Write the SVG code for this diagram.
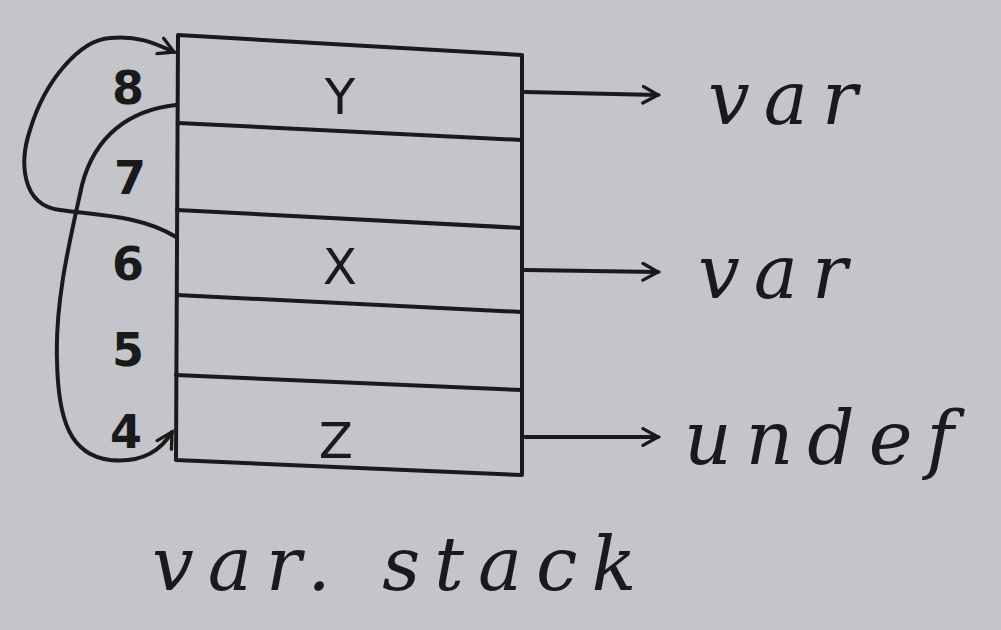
<svg xmlns="http://www.w3.org/2000/svg" width="1001" height="630" viewBox="0 0 1001 630">
<defs>
<style>
.ln{fill:none;stroke:#1a1a1a;stroke-width:4;stroke-linecap:round;stroke-linejoin:round}
.num{font-family:"DejaVu Sans",sans-serif;font-weight:bold;font-size:46px;fill:#1a1a1a;text-anchor:middle}
.cell{font-family:"DejaVu Sans",sans-serif;font-size:50px;fill:#1a1a1a;text-anchor:middle}
.hw{font-family:"DejaVu Serif",serif;font-style:italic;font-size:74px;fill:#1a1a1a;letter-spacing:14px}
</style>
<marker id="ah" viewBox="0 0 12 12" refX="10" refY="6" markerWidth="5" markerHeight="5" orient="auto" markerUnits="strokeWidth">
<path d="M1,1 L10,6 L1,11" fill="none" stroke="#1a1a1a" stroke-width="2" stroke-linecap="round"/>
</marker>
</defs>
<rect width="1001" height="630" fill="#c3c5cb"/>
<g id="stack">
<path class="ln" d="M178,35 L522,55 L522,475 L176,460 Z"/>
<path class="ln" d="M178,123 L522,140"/>
<path class="ln" d="M177,210 L522,228"/>
<path class="ln" d="M177,295 L522,312"/>
<path class="ln" d="M176,375 L522,390"/>
</g>
<g id="labels">
<text class="num" x="128" y="104">8</text>
<text class="num" x="130" y="194">7</text>
<text class="num" x="128" y="280">6</text>
<text class="num" x="128" y="366">5</text>
<text class="num" x="126" y="448">4</text>
<text class="cell" x="340" y="114">Y</text>
<text class="cell" x="340" y="284">X</text>
<text class="cell" x="336" y="458">Z</text>
</g>
<g id="connectors">
<path class="ln" marker-end="url(#ah)" d="M176,237 C140,215 95,215 60,210 C20,205 20,160 30,130 C45,80 80,40 110,38 C140,35 158,45 174,52"/>
<path class="ln" marker-end="url(#ah)" d="M176,105 C130,110 95,135 82,185 C70,240 55,300 57,360 C58,420 70,455 110,460 C140,463 160,452 172,432"/>
<path class="ln" marker-end="url(#ah)" d="M525,92 L658,95"/>
<path class="ln" marker-end="url(#ah)" d="M525,270 L658,272"/>
<path class="ln" marker-end="url(#ah)" d="M525,437 L658,437"/>
</g>
<g id="texts">
<text class="hw" x="708" y="124">var</text>
<text class="hw" x="698" y="298">var</text>
<text class="hw" x="684" y="464">undef</text>
<text class="hw" x="152" y="590">var. stack</text>
</g>
</svg>
